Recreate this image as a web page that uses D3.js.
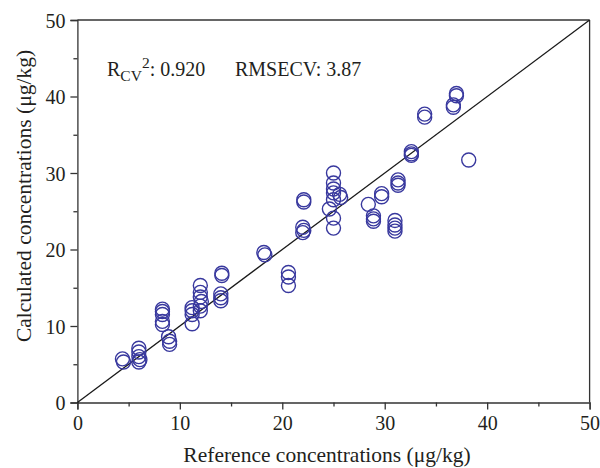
<!DOCTYPE html>
<html>
<head>
<meta charset="utf-8">
<script src="https://cdn.jsdelivr.net/npm/d3@7"></script>
<style>
  html, body { margin: 0; padding: 0; background: #fff; }
  svg { display: block; }
  text { font-family: "Liberation Serif", "DejaVu Serif", serif; fill: #231f20; }
</style>
</head>
<body>
<svg id="chart" width="600" height="468"></svg>
<script>
// Reference concentrations (x) and calculated concentrations (y), µg/kg
const refConc = [
  4.4, 4.5,
  6.0, 6.0, 6.0, 6.1, 6.0,
  8.3, 8.3, 8.3, 8.3, 8.3,
  8.9, 9.0, 9.0,
  11.2, 11.2, 11.2, 11.2,
  12.0, 12.0, 12.0, 12.1, 12.0, 12.0,
  14.1, 14.1, 14.0, 14.0, 14.0,
  18.2, 18.3,
  20.6, 20.6, 20.6,
  22.1, 22.1, 22.0, 22.1, 22.0,
  25.0, 25.0, 25.0, 25.0, 25.6, 25.7, 25.0, 24.6, 25.0, 25.0,
  28.4,
  28.9, 28.9, 28.9,
  29.7, 29.7,
  31.3, 31.3, 31.3,
  31.0, 31.0, 31.0, 31.0,
  32.6, 32.6, 32.6,
  33.9, 33.9,
  36.7, 36.7,
  37.0, 37.0,
  38.2
];
const calcConc = [
  5.7, 5.3,
  7.1, 6.6, 6.0, 5.6, 5.3,
  12.2, 11.9, 11.5, 10.6, 10.2,
  8.6, 8.0, 7.6,
  12.4, 12.0, 11.5, 10.3,
  15.3, 14.4, 13.8, 13.2, 12.6, 12.0,
  16.9, 16.6, 14.2, 13.7, 13.3,
  19.6, 19.3,
  17.0, 16.4, 15.3,
  26.5, 26.2, 22.9, 22.5, 22.2,
  30.0, 28.7, 27.9, 27.4, 27.2, 26.8, 26.5, 25.3, 24.1, 22.8,
  25.9,
  24.4, 24.0, 23.7,
  27.3, 26.9,
  29.1, 28.7, 28.4,
  23.8, 23.2, 22.8, 22.4,
  32.8, 32.5, 32.3,
  37.7, 37.3,
  38.9, 38.6,
  40.4, 40.1,
  31.7
];
const majorTicks = [0, 10, 20, 30, 40, 50];
const minorTicks = [5, 15, 25, 35, 45];
const identityLine = [0, 50];
const xTitle = "Reference concentrations (μg/kg)";
const yTitle = "Calculated concentrations (μg/kg)";
const statR2 = "0.920";
const statRMSECV = "3.87";

const svg = d3.select("#chart");
const L = 77.4, R = 589.6, T = 20, B = 402.5;
const x = d3.scaleLinear().domain([0, 50]).range([L, R]);
const y = d3.scaleLinear().domain([0, 50]).range([B, T]);
const axisColor = "#333";

// frame top & right
svg.append("line").attr("x1", L).attr("x2", R).attr("y1", T).attr("y2", T)
  .attr("stroke", axisColor).attr("stroke-width", 1.3);
svg.append("line").attr("x1", R).attr("x2", R).attr("y1", T).attr("y2", B)
  .attr("stroke", axisColor).attr("stroke-width", 1.3);

function styleAxis(g) {
  g.selectAll("path").attr("stroke", axisColor).attr("stroke-width", 1.3);
  g.selectAll("line").attr("stroke", axisColor).attr("stroke-width", 1.3);
  g.selectAll("text").attr("font-family", "'Liberation Serif', serif")
    .attr("font-size", 20).attr("fill", "#231f20");
}

// x axis
const gx = svg.append("g").attr("transform", `translate(0,${B})`)
  .call(d3.axisBottom(x).tickValues(majorTicks).tickSize(7).tickPadding(6).tickFormat(d3.format("d")));
styleAxis(gx);
const gxm = svg.append("g").attr("transform", `translate(0,${B})`)
  .call(d3.axisBottom(x).tickValues(minorTicks).tickSize(4).tickFormat(""));
gxm.select("path").remove();
styleAxis(gxm);

// y axis
const gy = svg.append("g").attr("transform", `translate(${L},0)`)
  .call(d3.axisLeft(y).tickValues(majorTicks).tickSize(7).tickPadding(5).tickFormat(d3.format("d")));
styleAxis(gy);
gy.selectAll("text").attr("dy", "0.36em");
const gym = svg.append("g").attr("transform", `translate(${L},0)`)
  .call(d3.axisLeft(y).tickValues(minorTicks).tickSize(4).tickFormat(""));
gym.select("path").remove();
styleAxis(gym);

// identity line
svg.append("line")
  .attr("x1", x(identityLine[0])).attr("y1", y(identityLine[0]))
  .attr("x2", x(identityLine[1])).attr("y2", y(identityLine[1]))
  .attr("stroke", "#1a1a1a").attr("stroke-width", 1.3);

// points
svg.append("g").selectAll("circle")
  .data(refConc.map((d, i) => [d, calcConc[i]]))
  .join("circle")
  .attr("cx", d => x(d[0]))
  .attr("cy", d => y(d[1]))
  .attr("r", 7)
  .attr("fill", "none")
  .attr("stroke", "#38389e")
  .attr("stroke-width", 1.4);

// axis titles
svg.append("text")
  .attr("x", 327).attr("y", 462)
  .attr("text-anchor", "middle")
  .attr("font-size", 21.5)
  .text(xTitle);
svg.append("text")
  .attr("transform", "translate(31,196) rotate(-90)")
  .attr("text-anchor", "middle")
  .attr("font-size", 21.5)
  .text(yTitle);

// annotation
const ann = svg.append("text").attr("x", 107).attr("y", 76).attr("font-size", 20);
ann.append("tspan").text("R");
ann.append("tspan").attr("font-size", 15.5).attr("dy", 5).text("CV");
ann.append("tspan").attr("font-size", 15.5).attr("dy", -13).text("2");
ann.append("tspan").attr("dy", 8).text(": " + statR2);
svg.append("text").attr("x", 235).attr("y", 76).attr("font-size", 20)
  .text("RMSECV: " + statRMSECV);
</script>
</body>
</html>
